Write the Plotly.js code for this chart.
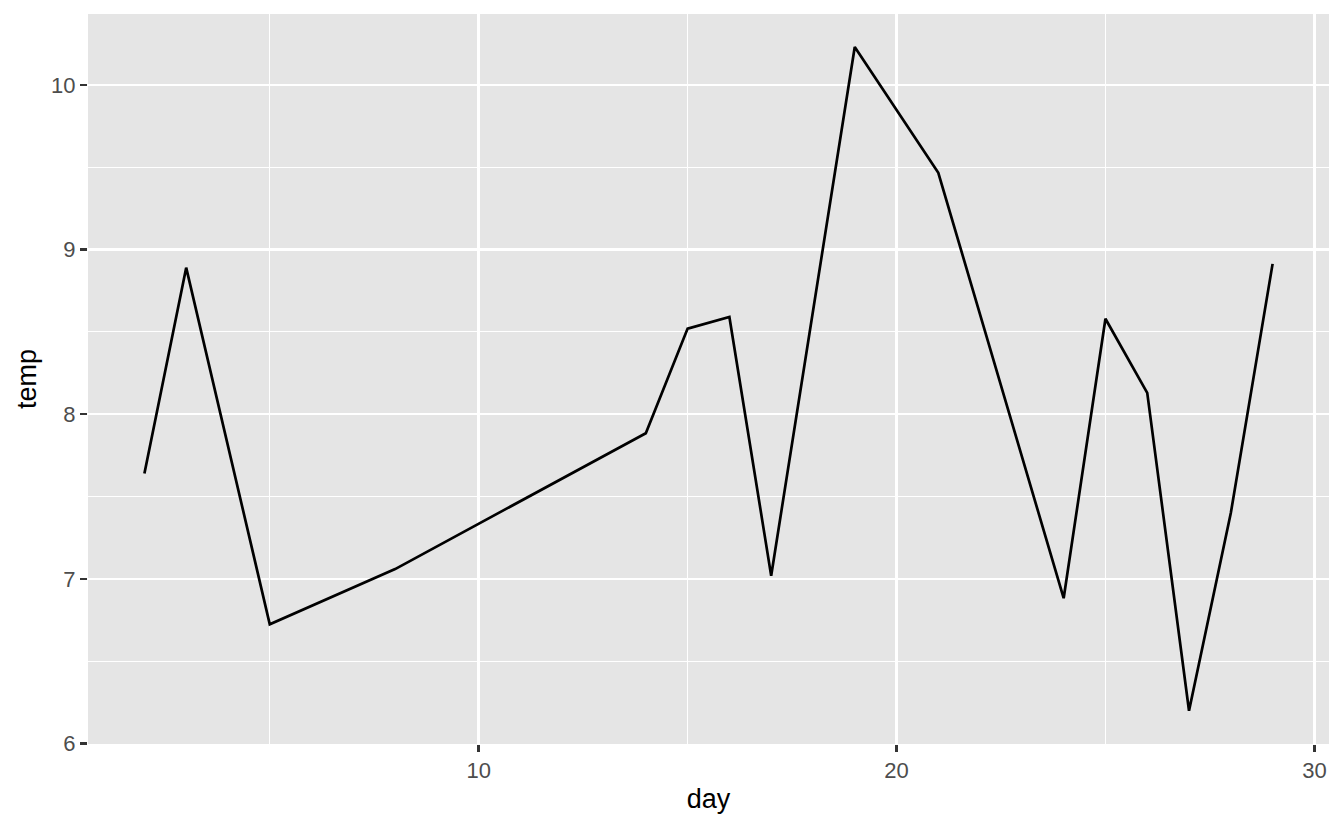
<!DOCTYPE html>
<html>
<head>
<meta charset="utf-8">
<script src="https://cdn.plot.ly/plotly-3.0.1.min.js"></script>
<style>html,body{margin:0;padding:0;background:#fff;}#chart{width:1344px;height:830px;}</style>
</head>
<body>
<div id="chart"></div>
<script>
const day  = [2, 3, 5, 8, 14, 15, 16, 17, 19, 21, 24, 25, 26, 27, 28, 29];
const temp = [7.64, 8.89, 6.725, 7.06, 7.885, 8.52, 8.59, 7.02, 10.23, 9.466, 6.883, 8.58, 8.13, 6.2, 7.40, 8.913];
const xTickVals = [10, 20, 30];
const yTickVals = [6, 7, 8, 9, 10];

const trace = {
  x: day, y: temp, type: 'scatter', mode: 'lines',
  line: {color: '#000000', width: 2.7},
  hoverinfo: 'skip'
};

const font = "'Liberation Sans', Arial, Helvetica, sans-serif";
const layout = {
  width: 1344, height: 830,
  margin: {l: 88, r: 15, t: 14, b: 86, pad: 0},
  paper_bgcolor: '#ffffff', plot_bgcolor: '#E5E5E5',
  showlegend: false,
  font: {family: font},
  xaxis: {
    range: [0.65, 30.35], tickvals: xTickVals, ticktext: xTickVals.map(String),
    showgrid: true, gridcolor: '#ffffff', gridwidth: 2.4, zeroline: false, showline: false,
    ticks: 'outside', ticklen: 7, tickwidth: 2.4, tickcolor: '#333333',
    tickfont: {size: 22, color: '#4D4D4D', family: font},
    minor: {dtick: 5, tick0: 0, showgrid: true, gridcolor: '#ffffff', gridwidth: 1.2, ticks: ''},
    title: {text: 'day', font: {size: 27, color: '#000000', family: font}, standoff: 6}
  },
  yaxis: {
    range: [5.998, 10.43], tickvals: yTickVals, ticktext: yTickVals.map(String),
    showgrid: true, gridcolor: '#ffffff', gridwidth: 2.4, zeroline: false, showline: false,
    ticks: 'outside', ticklen: 7, tickwidth: 2.4, tickcolor: '#333333',
    tickfont: {size: 22, color: '#4D4D4D', family: font},
    minor: {dtick: 0.5, tick0: 0, showgrid: true, gridcolor: '#ffffff', gridwidth: 1.2, ticks: ''},
    title: {text: 'temp', font: {size: 27, color: '#000000', family: font}, standoff: 6}
  }
};
Plotly.newPlot('chart', [trace], layout, {staticPlot: true, displayModeBar: false});
</script>
</body>
</html>
